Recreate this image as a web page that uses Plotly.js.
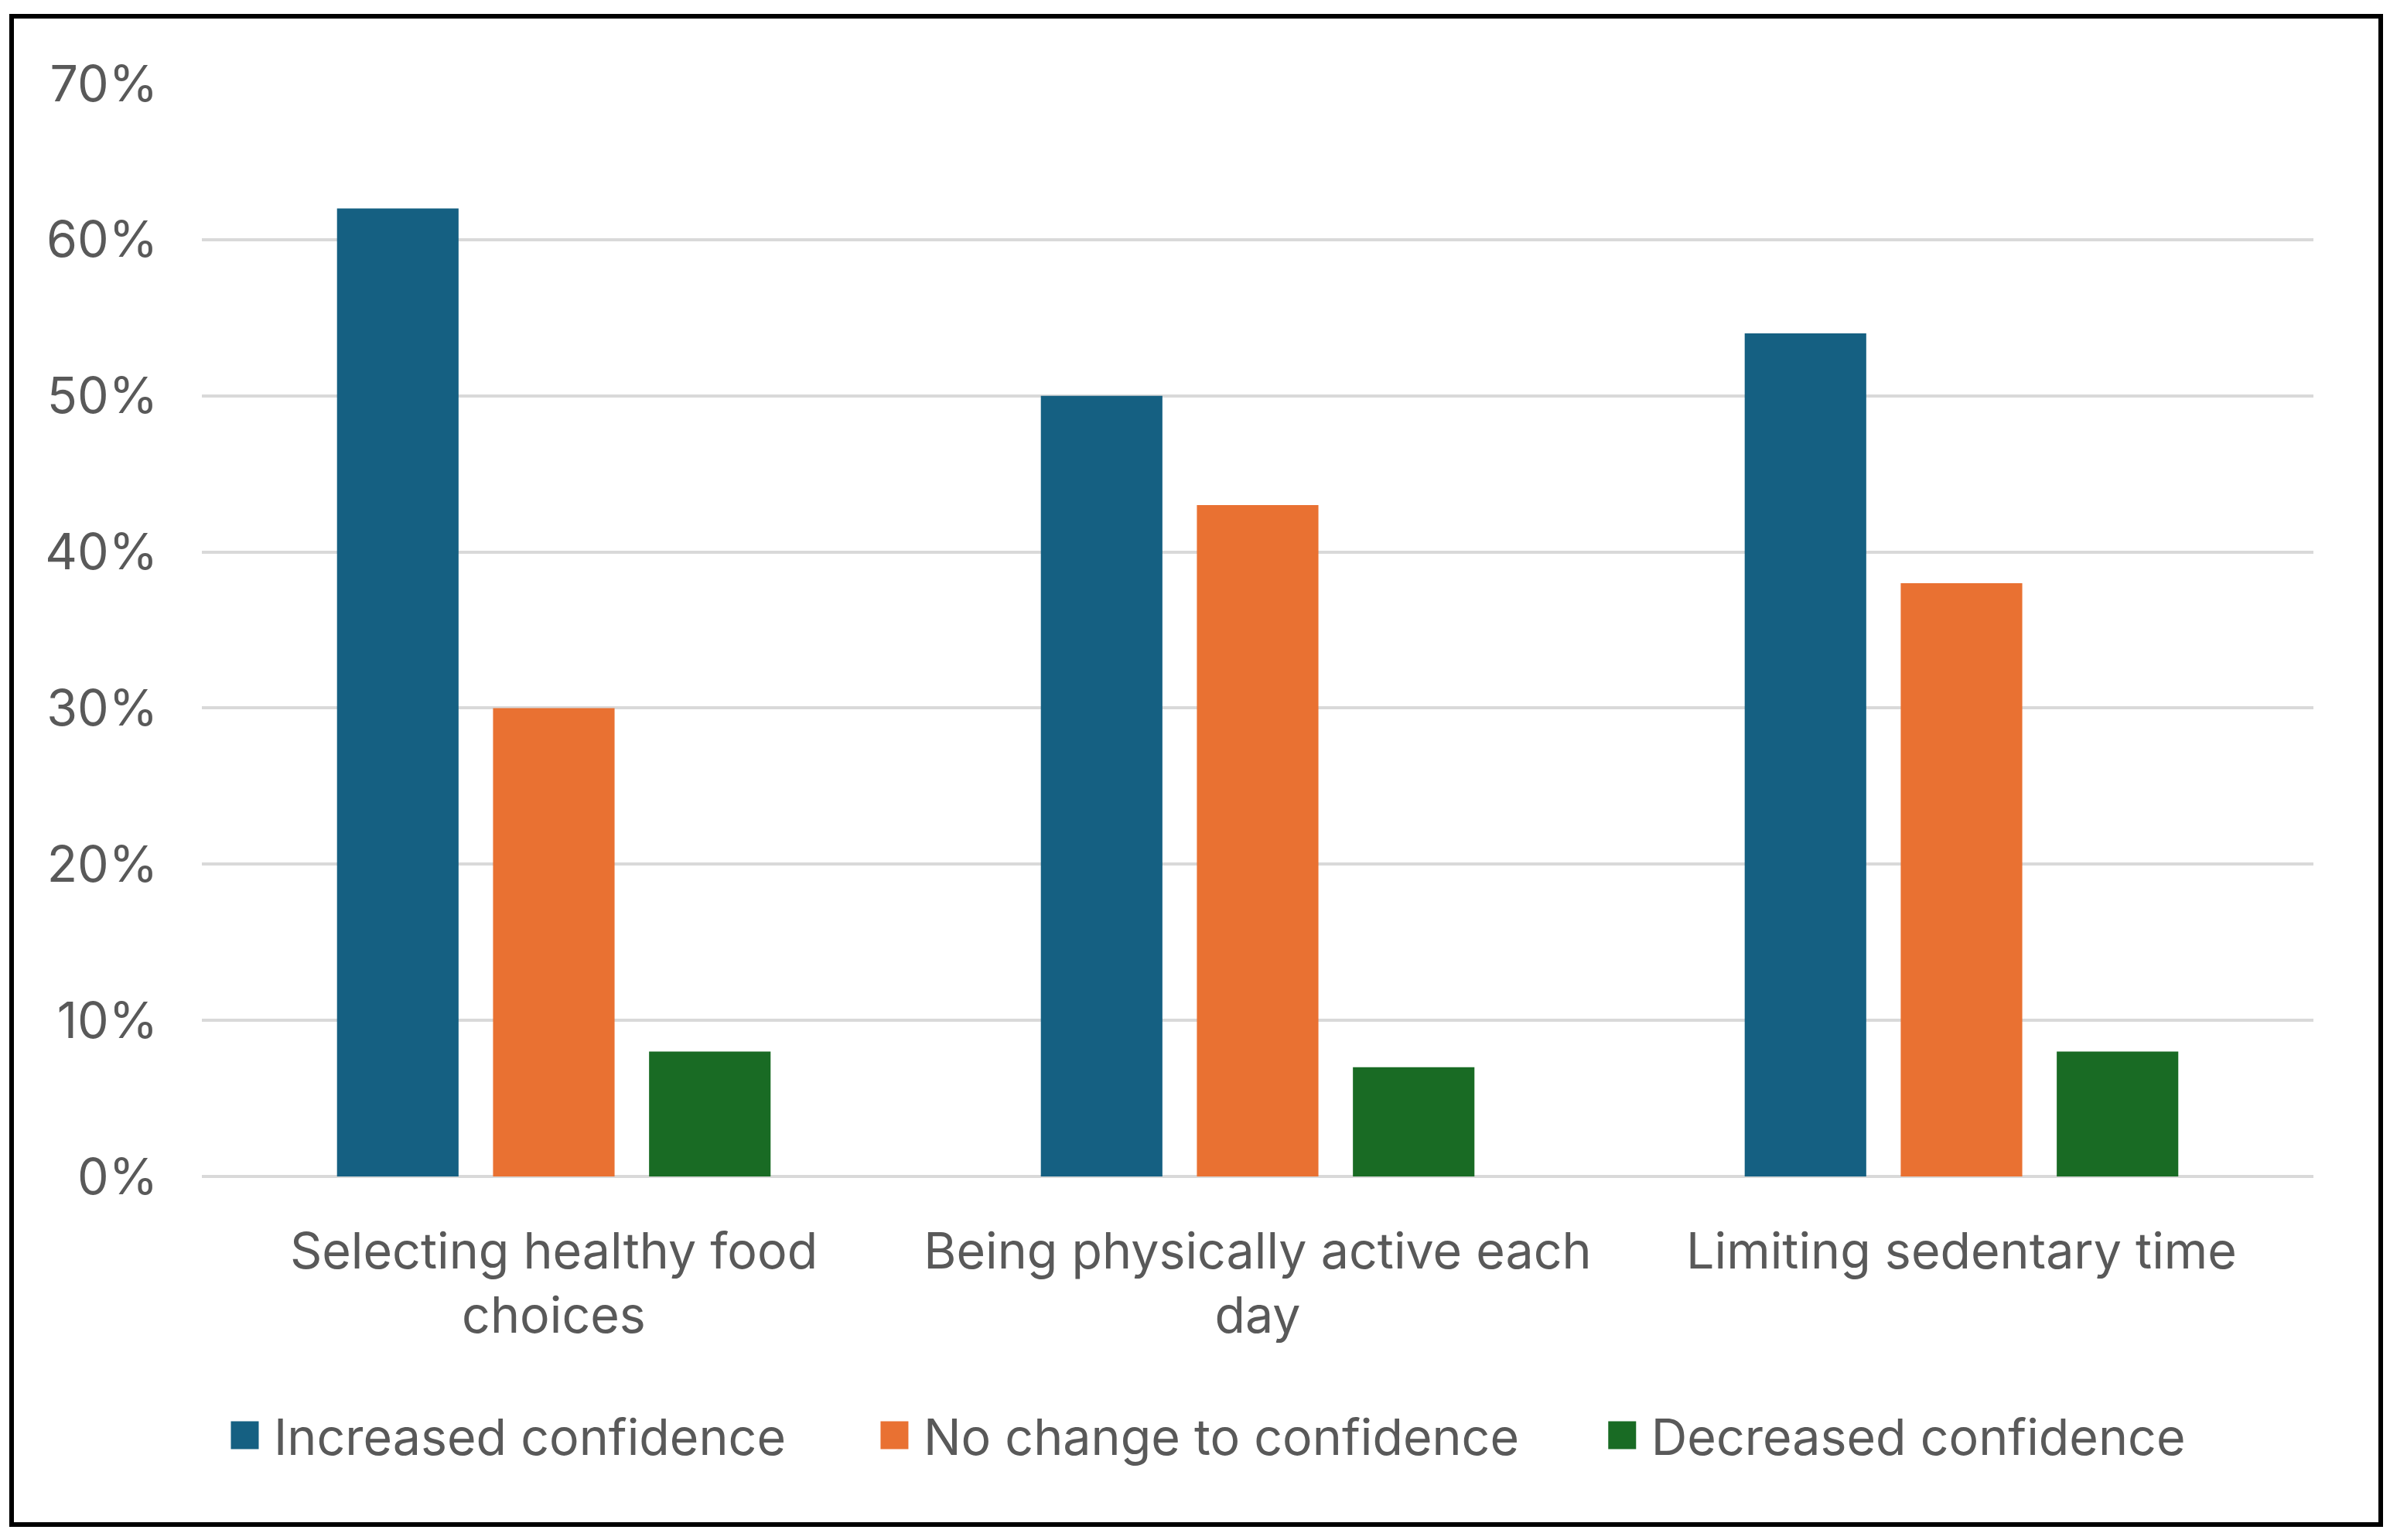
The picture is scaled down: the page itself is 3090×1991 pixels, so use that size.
<!DOCTYPE html>
<html><head><meta charset="utf-8">
<script src="https://cdn.plot.ly/plotly-3.0.1.min.js"></script>
<style>
html,body{margin:0;padding:0;background:#fff;overflow:hidden;}
#wrap{position:absolute;left:0;top:0;width:1030px;height:664px;transform:scale(3);transform-origin:0 0;}
#chart{position:absolute;left:0;top:0;width:1030px;height:664px;}
#frame{position:absolute;left:4px;top:6px;width:1023px;height:652px;box-sizing:border-box;border:2px solid #000;pointer-events:none;}
</style></head><body>
<div id="wrap"><div id="chart"></div><div id="frame"></div></div>
<script>
// ---- data ----
const categories = ["Selecting healthy food choices", "Being physically active each day", "Limiting sedentary time"];
const tickLabels = ["Selecting healthy food<br>choices", "Being physically active each<br>day", "Limiting sedentary time"];
const seriesNames = ["Increased confidence", "No change to confidence", "Decreased confidence"];
const increasedConfidence = [0.62, 0.50, 0.54];
const noChangeConfidence = [0.30, 0.43, 0.38];
const decreasedConfidence = [0.08, 0.07, 0.08];
const yTickVals = [0, 0.1, 0.2, 0.3, 0.4, 0.5, 0.6, 0.7];
const yTickText = ["0%", "10%", "20%", "30%", "40%", "50%", "60%", "70%"];

// ---- styles ----
const colors = ["#156082", "#E97132", "#196B24"];
const FONT = "Inter, 'Open Sans', 'Liberation Sans', sans-serif";
const TXT = "#595959";
const FS = 21.5;

const seriesValues = [increasedConfidence, noChangeConfidence, decreasedConfidence];
const legendIds = ["legend", "legend2", "legend3"];

const traces = seriesValues.map((vals, i) => ({
  type: "bar",
  name: seriesNames[i],
  x: categories,
  y: vals,
  marker: {color: colors[i], line: {width: 0}},
  legend: legendIds[i],
  hoverinfo: "x+y+name"
}));

const plotL = 87.3, plotR = 33.3, plotT = 35.7, plotB = 156.7;
const W = 1030, H = 664;
const plotW = W - plotL - plotR;
const plotH = H - plotT - plotB;
function lx(px) { return (px - plotL) / plotW; }
const legendY = (plotH + plotT - 619.0) / plotH;

const legendBase = {
  orientation: "h",
  xanchor: "left",
  yanchor: "middle",
  y: legendY,
  bgcolor: "rgba(0,0,0,0)",
  borderwidth: 0,
  itemwidth: 30,
  font: {family: FONT, size: FS, color: TXT}
};

const layout = {
  width: W,
  height: H,
  margin: {l: plotL, r: plotR, t: plotT, b: plotB, pad: 0},
  paper_bgcolor: "#ffffff",
  plot_bgcolor: "#ffffff",
  font: {family: FONT, size: FS, color: TXT},
  barmode: "group",
  bargap: 0.335,
  bargroupgap: 0.221,
  showlegend: true,
  legend: Object.assign({}, legendBase, {x: lx(105.8 - 20)}),
  legend2: Object.assign({}, legendBase, {x: lx(385.6 - 20)}),
  legend3: Object.assign({}, legendBase, {x: lx(699.0 - 20)}),
  xaxis: {
    type: "category",
    tickvals: categories,
    ticktext: tickLabels,
    showgrid: false,
    showline: false,
    zeroline: false,
    ticks: "",
    ticklabelstandoff: 17,
    tickfont: {family: FONT, size: FS, color: TXT},
    fixedrange: true
  },
  yaxis: {
    range: [0, 0.7],
    tickvals: yTickVals,
    ticktext: yTickText,
    showgrid: true,
    gridcolor: "#D9D9D9",
    gridwidth: 1.3,
    zeroline: true,
    zerolinecolor: "#D9D9D9",
    zerolinewidth: 1.3,
    showline: false,
    ticks: "",
    ticklabelstandoff: 18,
    tickfont: {family: FONT, size: FS, color: TXT},
    fixedrange: true
  }
};

// pull legend labels closer to their swatches, as in the original
function tightenLegendText() {
  document.querySelectorAll("#chart text").forEach(function (t) {
    const cls = t.getAttribute("class") || "";
    if (/^legend\d*text$/.test(cls)) t.setAttribute("x", "32.5");
  });
}

const gd = document.getElementById("chart");
Plotly.newPlot(gd, traces, layout, {displayModeBar: false, staticPlot: true}).then(function () {
  tightenLegendText();
  gd.on("plotly_afterplot", tightenLegendText);
});
</script>
</body></html>
